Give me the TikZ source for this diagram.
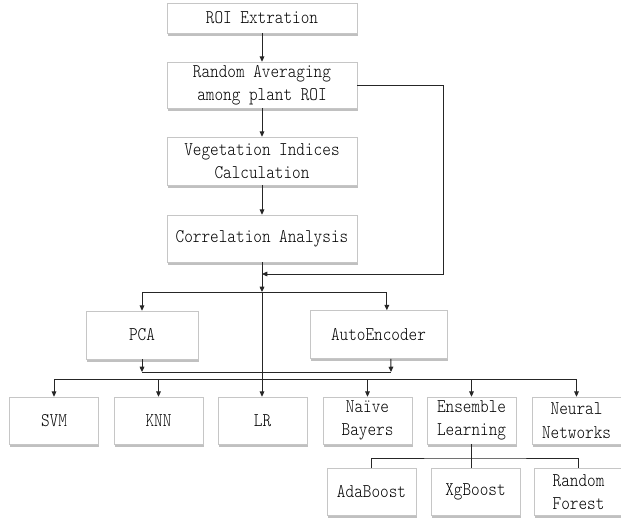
\documentclass[tikz,border=0pt]{standalone}
\usepackage{fontspec}
\newfontfamily\boxfont[Extension=.otf, FakeStretch=0.85]{lmmonolt10-regular}
\usetikzlibrary{arrows.meta,shadows}

\tikzset{
  box/.style={draw=gray!45, fill=white, line width=0.5pt, inner sep=0pt,
    align=center, font={\boxfont\fontsize{16.5}{20}\selectfont},
    drop shadow={shadow xshift=0.6pt, shadow yshift=-2.5pt,
      opacity=0.55, fill=gray!90}},
  topbox/.style={box, minimum width=5.7cm},
  redbox/.style={box, minimum width=3.36cm, minimum height=1.44cm},
  leafbox/.style={box, minimum width=2.67cm, minimum height=1.41cm},
  link/.style={line width=0.8pt, draw=black!85},
  arr/.style={link, -{Triangle[length=4.5pt, width=4pt]}},
}

\begin{document}
\begin{tikzpicture}[x=0.03cm, y=-0.03cm]
\useasboundingbox (0,0) rectangle (621,525);

% ── Preprocesado ──────────────────────────────────────────────
\node[topbox, minimum height=0.9cm]  (roi)  at (262, 18)    {ROI Extration};
\node[topbox, minimum height=1.38cm] (avg)  at (262, 85)    {Random Averaging\\among plant ROI};
\node[topbox, minimum height=1.44cm] (veg)  at (262, 161)   {Vegetation Indices\\Calculation};
\node[topbox, minimum height=1.41cm] (corr) at (262, 238.5) {Correlation Analysis};

\draw[arr] (roi) -- (avg);
\draw[arr] (avg) -- (veg);
\draw[arr] (veg) -- (corr);

% salto directo desde el promediado
\coordinate (turn)  at (443, 274);
\coordinate (join)  at (262, 274);
\coordinate (split) at (262, 292);
\draw[arr] (avg.east) -| (turn) -- (join);
\draw[arr] (corr.south) -- (split);

% ── Reduccion de dimension ────────────────────────────────────
\node[redbox] (pca) at (142, 335)   {PCA};
\node[redbox, minimum width=4.11cm] (ae) at (378.5, 334.5) {AutoEncoder};

\draw[arr] (split) -| (pca.north);
\draw[arr] (split) -| ([xshift=0.25cm]ae.north);

\coordinate (pcaout) at (142, 372);
\coordinate (aeout)  at (391, 372);
\draw[arr] (pca.south) -- (pcaout);
\draw[arr] ([xshift=0.37cm]ae.south) -- (aeout);
\draw[link] (pcaout) -- (aeout);

% ── Clasificadores ────────────────────────────────────────────
\node[leafbox] (svm) at (54, 420.5)    {SVM};
\node[leafbox] (knn) at (158.5, 420.5) {KNN};
\node[leafbox] (lr)  at (262.5, 420.5) {LR};
\node[leafbox] (nb)  at (367.5, 420.5) {Naïve\\Bayers};
\node[leafbox] (ens) at (471.5, 420.5) {Ensemble\\Learning};
\node[leafbox] (nn)  at (576.5, 420.5) {Neural\\Networks};

\draw[arr] (split) -- (split |- lr.north);

\coordinate (dist) at (262, 379);
\draw[link] (svm.north |- dist) -- (nn.north |- dist);
\foreach \c in {svm, knn, nb, ens, nn}
  \draw[arr] (\c.north |- dist) -- (\c.north);

% ── Ensemble ──────────────────────────────────────────────────
\node[leafbox] (ada) at (371.5, 492) {AdaBoost};
\node[leafbox] (xgb) at (475.5, 492) {XgBoost};
\node[leafbox] (rf)  at (578.5, 492) {Random\\Forest};

\coordinate (sub) at (475.5, 458);
\draw[link] (ada.north) |- (sub) -| (rf.north);
\draw[link] (ens.south) -- (ens.south |- xgb.north);

\end{tikzpicture}
\end{document}
